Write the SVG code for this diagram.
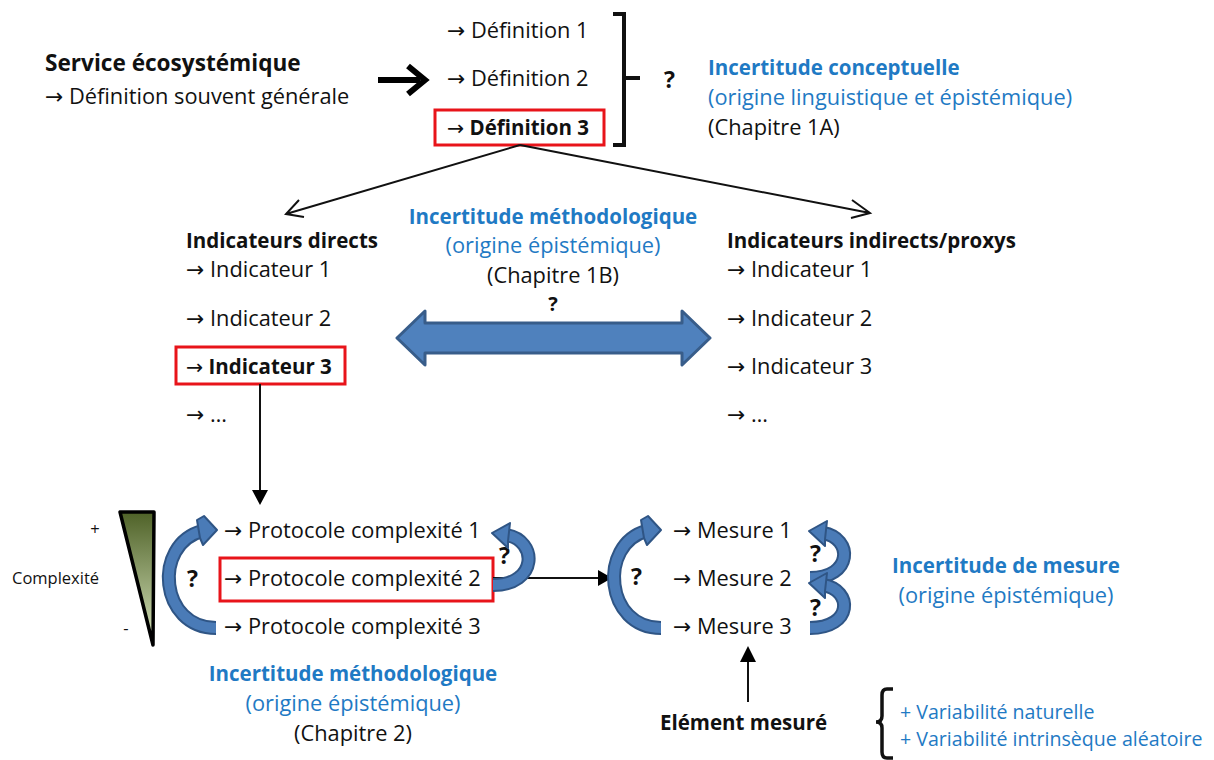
<svg xmlns="http://www.w3.org/2000/svg" width="1214" height="760" viewBox="0 0 1214 760">
<style>
text{font-family:"Open Sans","Liberation Sans",sans-serif;font-size:21.8px;fill:#111}
.ar{font-family:"DejaVu Sans",sans-serif;font-weight:normal}
.b{font-weight:bold;font-size:20.5px}
.blue{fill:#1f7ac4}
.c{text-anchor:middle}
.sm{font-size:16.5px}
.v{font-size:19.6px}
.q{font-size:23px;font-weight:bold}
.red{fill:none;stroke:#e8141a;stroke-width:3}
.bo{fill:none;stroke:#2f5585;stroke-width:14;stroke-linecap:butt}
.bi{fill:none;stroke:#4a7bb7;stroke-width:10;stroke-linecap:butt}
.bh{fill:#4a7bb7;stroke:#2f5585;stroke-width:2;stroke-linejoin:round}
.ln{fill:none;stroke:#111;stroke-width:2}
</style>
<defs>
<linearGradient id="tg" x1="0" y1="0" x2="0" y2="1">
<stop offset="0" stop-color="#4f6228"/>
<stop offset="1" stop-color="#d7e4bd"/>
</linearGradient>
</defs>

<g id="service">
<text x="45" y="71" class="b" style="font-size:22.6px">Service écosystémique</text>
<text x="45" y="104"><tspan class="ar">→</tspan> Définition souvent générale</text>
</g>

<g id="definitions">
<text x="447" y="38"><tspan class="ar">→</tspan> Définition 1</text>
<text x="447" y="86"><tspan class="ar">→</tspan> Définition 2</text>
<rect x="435" y="110" width="169" height="35" class="red"/>
<text x="447" y="135" class="b"><tspan class="ar">→</tspan> Définition 3</text>
<path d="M613,14 H624 V145 H613 M624,78 H640" fill="none" stroke="#111" stroke-width="4"/>
<text x="664" y="88" class="q">?</text>
</g>

<g id="incertitude-conceptuelle">
<text x="708" y="75" class="b blue">Incertitude conceptuelle</text>
<text x="708" y="105" class="blue">(origine linguistique et épistémique)</text>
<text x="708" y="135">(Chapitre 1A)</text>
</g>

<g id="indicateurs-directs">
<text x="186" y="248" class="b">Indicateurs directs</text>
<text x="186" y="277"><tspan class="ar">→</tspan> Indicateur 1</text>
<text x="186" y="326"><tspan class="ar">→</tspan> Indicateur 2</text>
<rect x="176" y="347" width="169" height="37" class="red"/>
<text x="186" y="374" class="b"><tspan class="ar">→</tspan> Indicateur 3</text>
<text x="186" y="422"><tspan class="ar">→</tspan> …</text>
</g>

<g id="incertitude-methodo-1">
<text x="553" y="224" class="b blue c">Incertitude méthodologique</text>
<text x="553" y="253" class="blue c">(origine épistémique)</text>
<text x="553" y="283" class="c">(Chapitre 1B)</text>
<text x="553" y="311" class="q c" style="font-size:20px">?</text>
</g>

<g id="indicateurs-indirects">
<text x="727" y="248" class="b">Indicateurs indirects/proxys</text>
<text x="727" y="277"><tspan class="ar">→</tspan> Indicateur 1</text>
<text x="727" y="326"><tspan class="ar">→</tspan> Indicateur 2</text>
<text x="727" y="374"><tspan class="ar">→</tspan> Indicateur 3</text>
<text x="727" y="422"><tspan class="ar">→</tspan> …</text>
</g>

<g id="complexite">
<polygon points="120,512 154,512 153,645" fill="url(#tg)" stroke="#000" stroke-width="3.5" stroke-linejoin="round"/>
<text x="95" y="535" class="sm c">+</text>
<text x="12" y="584" class="sm">Complexité</text>
<text x="126" y="634" class="sm c">-</text>
</g>

<g id="protocoles">
<text x="224" y="538"><tspan class="ar">→</tspan> Protocole complexité 1</text>
<rect x="220" y="558" width="273" height="43" class="red"/>
<text x="224" y="586"><tspan class="ar">→</tspan> Protocole complexité 2</text>
<text x="224" y="634"><tspan class="ar">→</tspan> Protocole complexité 3</text>
<text x="187" y="587" class="q">?</text>
<text x="499" y="564" class="q">?</text>
</g>

<g id="mesures">
<text x="673" y="538"><tspan class="ar">→</tspan> Mesure 1</text>
<text x="673" y="586"><tspan class="ar">→</tspan> Mesure 2</text>
<text x="673" y="634"><tspan class="ar">→</tspan> Mesure 3</text>
<text x="631" y="585" class="q">?</text>
<text x="810" y="562" class="q">?</text>
<text x="810" y="616" class="q">?</text>
</g>

<g id="incertitude-mesure">
<text x="1006" y="573" class="b blue c">Incertitude de mesure</text>
<text x="1006" y="603" class="blue c">(origine épistémique)</text>
</g>

<g id="incertitude-methodo-2">
<text x="353" y="681" class="b blue c">Incertitude méthodologique</text>
<text x="353" y="711" class="blue c">(origine épistémique)</text>
<text x="353" y="741" class="c">(Chapitre 2)</text>
</g>

<g id="element-mesure">
<text x="660" y="730" class="b">Elément mesuré</text>
<path d="M893,689 H887 Q882,689 882,695 V716 Q882,722 876,722 Q882,722 882,728 V752 Q882,758 887,758 H893" fill="none" stroke="#111" stroke-width="3.5"/>
<text x="900" y="719" class="blue v">+ Variabilité naturelle</text>
<text x="900" y="746" class="blue v">+ Variabilité intrinsèque aléatoire</text>
</g>

<g id="connectors">
<path d="M378,80 H420 M408,66 L425,80 L408,94" fill="none" stroke="#000" stroke-width="6" stroke-linejoin="miter"/>
<path d="M520,145 L286,214 M299,200 L286,214 L304,217" class="ln" stroke-width="1.8"/>
<path d="M520,145 L870,213 M852,200 L870,213 L851,218" class="ln" stroke-width="1.8"/>
<polygon points="397,338 425,311 425,323 682,323 682,311 710,338 682,365 682,353 425,353 425,365" fill="#4f81bd" stroke="#385d8a" stroke-width="3" stroke-linejoin="round"/>
<path d="M260,384 V492" class="ln" stroke-width="2.5"/>
<polygon points="252,490 268,490 260,505" fill="#000"/>
<path d="M493,578 H600" class="ln" stroke-width="2.5"/>
<polygon points="598,570 598,586 612,578" fill="#000"/>
<path d="M748,702 V660" class="ln" stroke-width="2.5"/>
<polygon points="740,662 756,662 748,646" fill="#000"/>

<path d="M216,628 C160,628 152,545 202,531" class="bo"/>
<path d="M216,628 C160,628 152,545 202,531" class="bi"/>
<polygon points="197,520 204,516 217,530 203,545 200,538" class="bh"/>

<path d="M493,585 C538,585 538,540 506,535" class="bo"/>
<path d="M493,585 C538,585 538,540 506,535" class="bi"/>
<polygon points="510,523 492,533 508,548 508,541" class="bh"/>

<path d="M661,628 C605,628 598,545 646,531" class="bo"/>
<path d="M661,628 C605,628 598,545 646,531" class="bi"/>
<polygon points="641,520 648,516 661,530 647,545 644,538" class="bh"/>

<path d="M810,578 C853,578 853,538 823,533" class="bo"/>
<path d="M810,578 C853,578 853,538 823,533" class="bi"/>
<polygon points="827,521 809,531 825,546 825,539" class="bh"/>

<path d="M810,628 C853,628 853,590 823,585" class="bo"/>
<path d="M810,628 C853,628 853,590 823,585" class="bi"/>
<polygon points="827,573 809,583 825,598 825,591" class="bh"/>
</g>
</svg>
